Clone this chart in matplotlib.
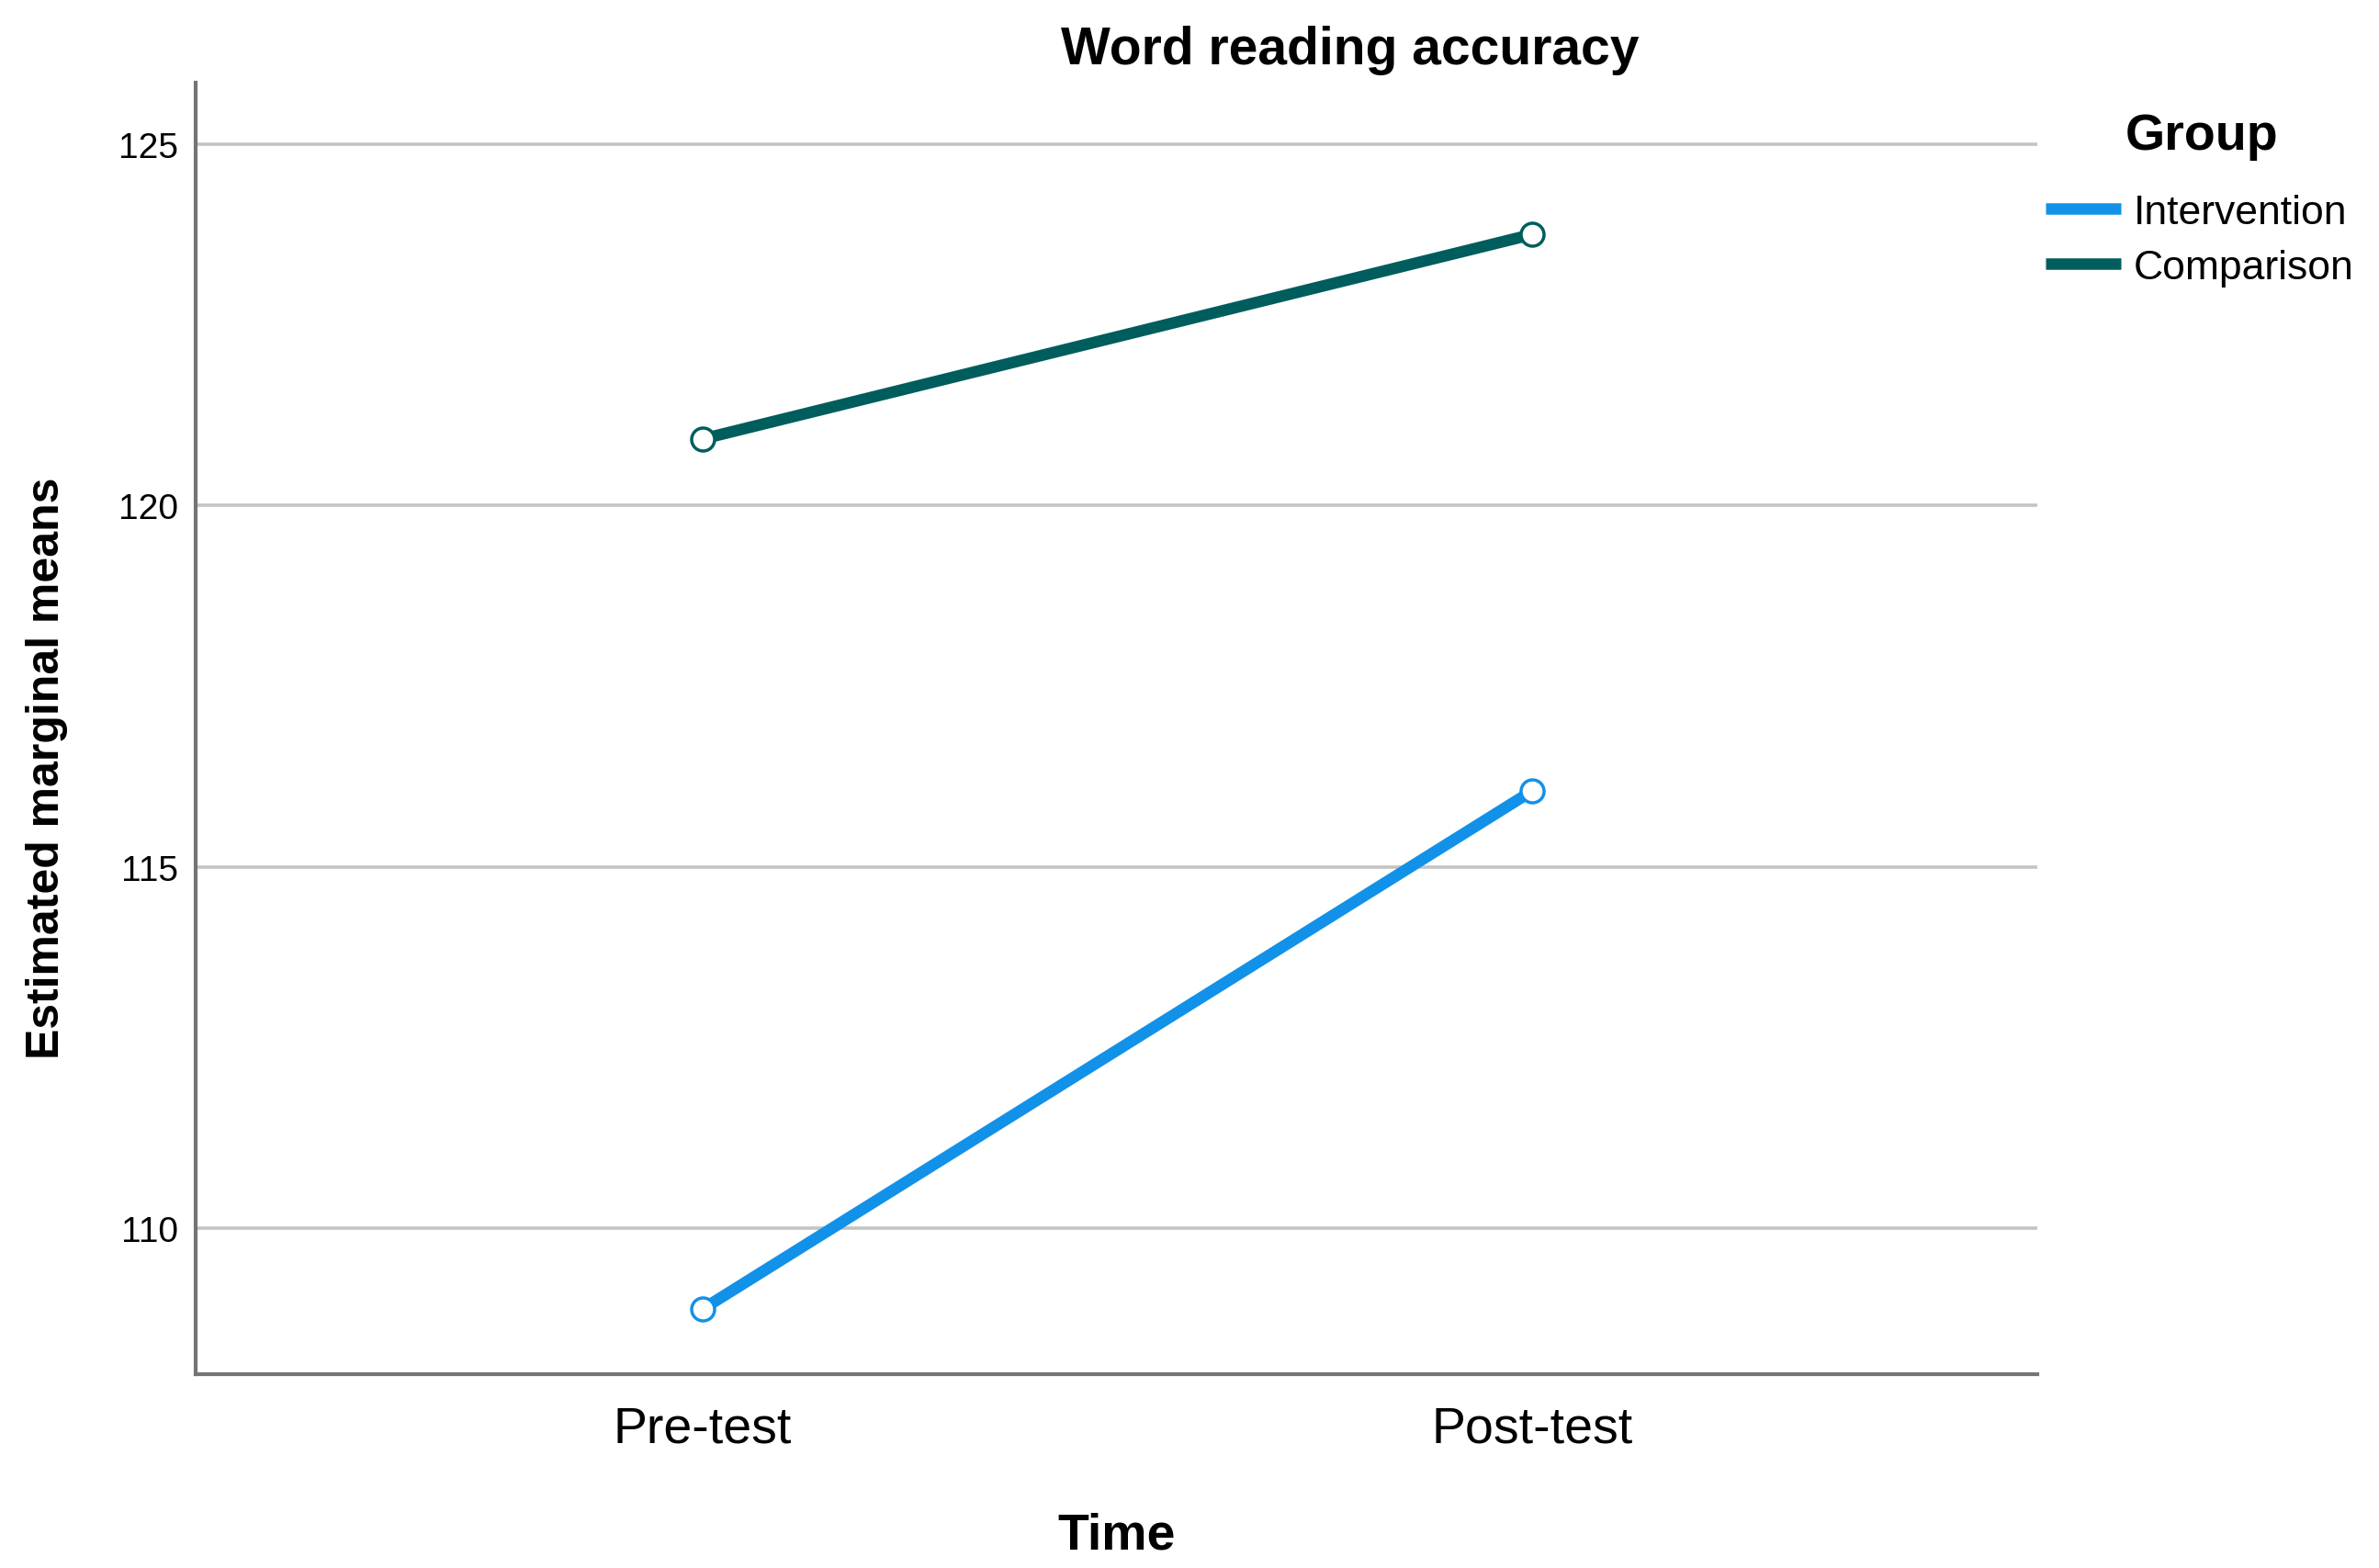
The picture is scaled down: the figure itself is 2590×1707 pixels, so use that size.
import matplotlib
matplotlib.use("Agg")
import matplotlib.pyplot as plt
from matplotlib.lines import Line2D

# ---- data ----
times = ["Pre-test", "Post-test"]
groups = ["Intervention", "Comparison"]
intervention = [108.88, 116.05]
comparison = [120.92, 123.75]
yticks = [110, 115, 120, 125]
colors = {"Intervention": "#1192e8", "Comparison": "#005d5d"}

plt.rcParams['font.family'] = ['Liberation Sans', 'DejaVu Sans']

fig = plt.figure(figsize=(25.9, 17.08), dpi=100)
ax = fig.add_axes([213/2590, 1 - 1497/1708, (2218-213)/2590, (1497-91)/1708])

x = list(range(len(times)))
series = {"Intervention": intervention, "Comparison": comparison}
for g in groups:
    ax.plot(x, series[g], color=colors[g], lw=9, marker='o', ms=18,
            mfc='white', mec=colors[g], mew=2.5, zorder=3, solid_capstyle='butt')

ax.set_xlim(-0.611, 1.609)
ax.set_ylim(107.98, 125.85)
ax.set_xticks(x)
ax.set_xticklabels(times, fontsize=40)
ax.set_yticks(yticks)
ax.set_yticklabels([str(t) for t in yticks], fontsize=28)
ax.tick_params(axis='both', length=0)
ax.tick_params(axis='y', pad=14)
ax.tick_params(axis='x', pad=24)
ax.yaxis.grid(True, color='#c4c4c4', lw=2.6, zorder=1)
ax.set_axisbelow(True)
for s in ['top', 'right']:
    ax.spines[s].set_visible(False)
for s in ['left', 'bottom']:
    ax.spines[s].set_color('#747474')
    ax.spines[s].set_linewidth(3)

fig.text(1470/2590, 1 - 70/1708, "Word reading accuracy", ha='center', va='baseline',
         fontsize=41, fontweight='bold')
fig.text(1216/2590, 1 - 1687/1708, "Time", ha='center', va='baseline',
         fontsize=40, fontweight='bold')
fig.text(51/2590, 1 - 836/1708, "Estimated marginal means", rotation=90,
         ha='center', va='center', fontsize=36, fontweight='bold')

# legend title
fig.text(2397/2590, 1 - 163/1708, "Group", ha='center', va='baseline',
         fontsize=40, fontweight='bold')
handles = [Line2D([], [], color=colors[g], lw=9, solid_capstyle='butt') for g in groups]
leg = fig.legend(handles, groups, loc='upper left', bbox_to_anchor=(2227/2590, 1 - 212/1708),
                 frameon=False, fontsize=32, borderpad=0, borderaxespad=0,
                 handlelength=1.85, handletextpad=0.3, labelspacing=0.42)

fig.savefig("out.png", dpi=100)
